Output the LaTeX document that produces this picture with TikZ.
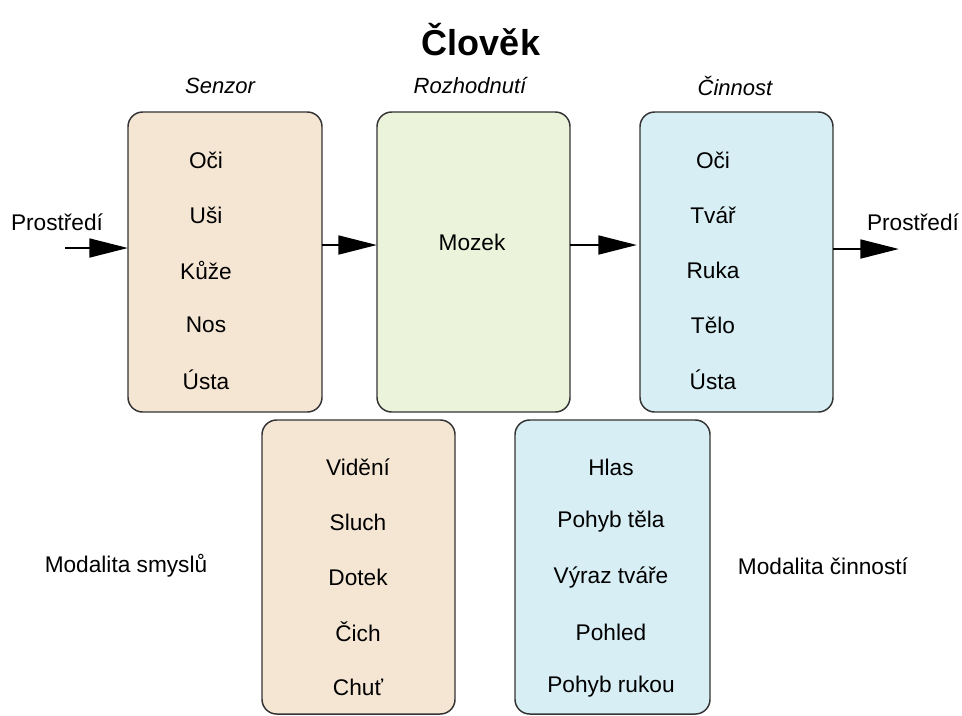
\documentclass[tikz,border=0pt]{standalone}
\usepackage{fontspec}
\setmainfont{Liberation Sans}
\usetikzlibrary{arrows.meta}
\definecolor{sensefill}{HTML}{F5E6D4}
\definecolor{brainfill}{HTML}{EBF4DA}
\definecolor{actfill}{HTML}{D7EEF4}
\definecolor{edge}{HTML}{333333}
\begin{document}
\begin{tikzpicture}[x=0.75pt,y=-0.75pt,
  panel/.style={draw=edge,line width=1.1pt,rounded corners=11pt},
  item/.style={font=\fontsize{17}{20}\selectfont,inner sep=0pt},
  head/.style={font=\fontsize{16.5}{20}\selectfont\itshape,inner sep=0pt},
  flow/.style={line width=2.2pt,-{Triangle[length=29pt,width=14pt]}}]
\useasboundingbox (0,0) rectangle (962,715);
% title
\node[font=\fontsize{27}{32}\selectfont\bfseries] (title) at (481,40) {Člověk};
% column headings
\node[head] (hsen) at (220,86) {Senzor};
\node[head] (hdec) at (470,86) {Rozhodnutí};
\node[head] (hact) at (735,86) {Činnost};
% top row of panels
\draw[panel,fill=sensefill] (128,112) rectangle (322,412);
\draw[panel,fill=brainfill] (377,112) rectangle (570,412);
\draw[panel,fill=actfill] (640,112) rectangle (833,412);
\coordinate (sensL) at (128,248);
\coordinate (sensR) at (322,245);
\coordinate (brainL) at (377,245);
\coordinate (brainR) at (570,245);
\coordinate (actL) at (637,245);
\coordinate (actR) at (833,249);
\coordinate (inS) at (65,248);
\coordinate (outE) at (899,249);
% bottom row of panels
\draw[panel,fill=sensefill] (262,420) rectangle (455,714);
\draw[panel,fill=actfill] (515,420) rectangle (710,714);
% sensor items
\node[item] (s1) at (206,160) {Oči};
\node[item] (s2) at (206,215) {Uši};
\node[item] (s3) at (206,270) {Kůže};
\node[item] (s4) at (206,325) {Nos};
\node[item] (s5) at (206,380) {Ústa};
% decision
\node[item] (m) at (472,242) {Mozek};
% action items
\node[item] (a1) at (713,160) {Oči};
\node[item] (a2) at (713,215) {Tvář};
\node[item] (a3) at (713,270) {Ruka};
\node[item] (a4) at (713,325) {Tělo};
\node[item] (a5) at (713,380) {Ústa};
% sense modalities
\node[item] (v1) at (358,467) {Vidění};
\node[item] (v2) at (358,522) {Sluch};
\node[item] (v3) at (358,577) {Dotek};
\node[item] (v4) at (358,632) {Čich};
\node[item] (v5) at (358,687) {Chuť};
% action modalities
\node[item] (c1) at (611,467) {Hlas};
\node[item] (c2) at (611,522) {Pohyb těla};
\node[item] (c3) at (611,577) {Výraz tváře};
\node[item] (c4) at (611,632) {Pohled};
\node[item] (c5) at (611,687) {Pohyb rukou};
% side labels
\node[item] (ms) at (126,566) {Modalita smyslů};
\node[item] (ma) at (823,566) {Modalita činností};
\node[item] (envL) at (57,222) {Prostředí};
\node[item] (envR) at (913,222) {Prostředí};
% flow arrows
\draw[flow] (inS) -- (sensL);
\draw[flow] (sensR) -- (brainL);
\draw[flow] (brainR) -- (actL);
\draw[flow] (actR) -- (outE);
\end{tikzpicture}
\end{document}
